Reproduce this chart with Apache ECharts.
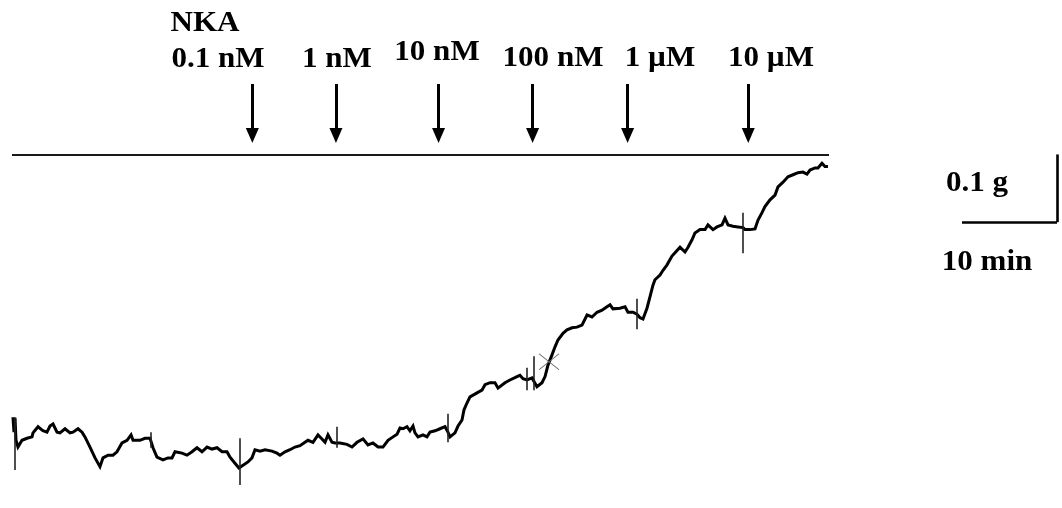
<!DOCTYPE html>
<html>
<head>
<meta charset="utf-8">
<script src="https://cdn.jsdelivr.net/npm/echarts@6/dist/echarts.min.js"></script>
<style>
  html, body { margin: 0; padding: 0; background: #fff; }
  #chart { width: 1062px; height: 508px; }
</style>
</head>
<body>
<div id="chart"></div>
<script>
// Isometric tension recording: [time (min), tension (g)]
const recording = [
  [0.10,0.084],[0.21,0.062],[0.32,0.083],[0.42,0.050],[0.63,0.040],[1.05,0.050],[1.58,0.053],[2.11,0.055],
  [2.21,0.061],[2.74,0.070],[3.26,0.064],[3.68,0.062],[4.00,0.071],[4.32,0.074],[4.74,0.062],[5.05,0.061],
  [5.58,0.067],[6.11,0.061],[6.42,0.062],[6.95,0.067],[7.37,0.062],[7.68,0.055],[8.21,0.040],[8.74,0.024],
  [9.26,0.011],[9.58,0.024],[10.11,0.028],[10.63,0.028],[11.05,0.033],[11.58,0.046],[12.11,0.050],[12.53,0.058],
  [12.74,0.050],[13.47,0.050],[14.00,0.053],[14.53,0.053],[14.84,0.039],[15.26,0.025],[15.89,0.021],[16.42,0.024],
  [16.84,0.024],[17.16,0.033],[17.89,0.031],[18.42,0.028],[18.95,0.033],[19.47,0.039],[20.00,0.033],[20.53,0.040],
  [21.05,0.037],[21.58,0.039],[22.11,0.033],[22.63,0.033],[22.95,0.025],[23.47,0.016],[23.89,0.009],[24.32,0.013],
  [24.84,0.018],[25.26,0.024],[25.58,0.036],[26.11,0.034],[26.63,0.036],[27.37,0.034],[27.89,0.031],[28.21,0.028],
  [28.74,0.033],[29.26,0.036],[29.79,0.040],[30.32,0.042],[30.84,0.047],[31.16,0.050],[31.68,0.047],[32.21,0.058],
  [32.63,0.052],[32.95,0.047],[33.26,0.058],[33.68,0.047],[34.00,0.046],[34.53,0.046],[35.26,0.044],[35.79,0.040],
  [36.32,0.047],[36.95,0.052],[37.47,0.043],[38.00,0.046],[38.53,0.040],[39.05,0.040],[39.58,0.050],[40.11,0.055],
  [40.53,0.059],[40.84,0.068],[41.16,0.067],[41.58,0.070],[41.89,0.064],[42.21,0.071],[42.42,0.061],[42.74,0.055],
  [43.26,0.058],[43.68,0.055],[44.00,0.062],[44.53,0.064],[45.05,0.067],[45.58,0.070],[45.89,0.062],[46.11,0.055],
  [46.63,0.061],[46.95,0.071],[47.37,0.080],[47.58,0.095],[47.89,0.105],[48.21,0.114],[48.95,0.120],[49.47,0.124],
  [49.79,0.132],[50.32,0.135],[50.84,0.135],[51.16,0.127],[51.37,0.129],[51.89,0.135],[52.42,0.139],[53.16,0.144],
  [53.47,0.146],[53.79,0.141],[54.21,0.139],[54.74,0.142],[55.26,0.129],[55.79,0.135],[56.11,0.144],[56.42,0.161],
  [56.84,0.176],[57.16,0.188],[57.47,0.198],[58.00,0.208],[58.42,0.213],[58.95,0.216],[59.47,0.217],[60.00,0.220],
  [60.53,0.235],[61.05,0.232],[61.58,0.239],[62.11,0.242],[62.63,0.247],[62.95,0.250],[63.26,0.244],[64.00,0.245],
  [64.53,0.247],[64.84,0.239],[65.37,0.239],[65.79,0.236],[66.11,0.231],[66.42,0.229],[66.84,0.245],[67.16,0.262],
  [67.47,0.279],[67.68,0.287],[68.21,0.294],[68.53,0.301],[68.95,0.309],[69.47,0.322],[69.79,0.327],[70.32,0.335],
  [70.84,0.328],[71.16,0.335],[71.58,0.346],[71.89,0.356],[72.42,0.361],[72.95,0.361],[73.26,0.368],[73.79,0.361],
  [74.21,0.365],[74.74,0.368],[75.05,0.378],[75.37,0.368],[75.89,0.366],[76.42,0.365],[76.95,0.364],[77.16,0.361],
  [77.68,0.361],[78.21,0.362],[78.53,0.375],[78.95,0.386],[79.26,0.395],[79.79,0.405],[80.32,0.412],[80.63,0.424],
  [81.16,0.431],[81.68,0.439],[82.21,0.442],[82.74,0.445],[83.26,0.446],[83.68,0.443],[84.00,0.449],[84.53,0.452],
  [84.84,0.452],[85.26,0.459],[85.58,0.454],[85.89,0.454]
];

// Injection artefacts on the trace: [time (min), top (g), bottom (g)]
const artefacts = [
  [0.32,0.084,0.006],[14.63,0.062,0.039],[24.00,0.053,-0.016],[34.21,0.070,0.039],
  [45.89,0.089,0.047],[54.21,0.157,0.124],[54.95,0.174,0.124],[65.79,0.259,0.214],[76.95,0.386,0.326]
];

// Cumulative NKA additions
const agonist = 'NKA';
const doseLabels = ['0.1 nM', '1 nM', '10 nM', '100 nM', '1 µM', '10 µM'];
const doseTimes = [25.3, 34.1, 44.9, 54.8, 64.8, 77.5];

// Reference level across the top of the trace (g) and its time span (min)
const referenceLevel = 0.472;
const referenceSpan = [0, 86];

// Calibration bars
const calTime = [100, 110];      // 10 min
const calForce = [0.372, 0.472]; // 0.1 g
const calLabels = ['0.1 g', '10 min'];

// Event marker on the trace
const eventMark = [56.53, 0.166];

// Arrow shaft extent (g)
const arrowTop = 0.576, arrowEnd = 0.500;

// Text placement (px)
const doseLabelPos = [[218, 60], [337, 60], [437, 53], [553, 59], [660, 59], [771, 59]];
const agonistPos = [205, 24];
const calLabelPos = [[977, 184], [987, 263]];

const FONT = '"Liberation Serif", "Times New Roman", serif';
const textEl = (text, pos) => ({
  type: 'text', x: pos[0], y: pos[1], scaleX: 1.07, silent: true,
  style: {
    text: text, fill: '#000', fontFamily: FONT, fontSize: 29, fontWeight: 'bold',
    align: 'center', verticalAlign: 'middle', textAlign: 'center', textVerticalAlign: 'middle'
  }
});

const chart = echarts.init(document.getElementById('chart'), null, { renderer: 'canvas' });

chart.setOption({
  animation: false,
  backgroundColor: '#fff',
  grid: { left: 12, right: 5, top: 0, bottom: 0 },
  xAxis: { type: 'value', min: 0, max: 110, show: false, splitLine: { show: false } },
  yAxis: { type: 'value', min: -0.05, max: 0.7, show: false, splitLine: { show: false } },
  graphic: [
    textEl(agonist, agonistPos),
    ...doseLabels.map((t, i) => textEl(t, doseLabelPos[i])),
    ...calLabels.map((t, i) => textEl(t, calLabelPos[i]))
  ],
  series: [
    {
      name: 'tension',
      type: 'line',
      data: recording,
      showSymbol: false,
      clip: false,
      lineStyle: { color: '#000', width: 3, join: 'miter' },
      z: 3,
      markPoint: {
        silent: true,
        symbol: 'path://M0,0L20,16M0,16L20,0',
        symbolSize: [20, 16],
        itemStyle: { color: 'rgba(0,0,0,0)', borderColor: '#6a6a6a', borderWidth: 1 },
        label: { show: false },
        data: [{ coord: eventMark }]
      }
    },
    {
      name: 'artefacts',
      type: 'line',
      data: [],
      clip: false,
      markLine: {
        silent: true,
        symbol: 'none',
        label: { show: false },
        lineStyle: { color: '#222', width: 1.6, type: 'solid' },
        data: artefacts.map(a => [{ coord: [a[0], a[1]] }, { coord: [a[0], a[2]] }])
      }
    },
    {
      name: 'additions',
      type: 'line',
      data: [],
      clip: false,
      markLine: {
        silent: true,
        symbol: ['none', 'triangle'],
        symbolSize: [13, 15],
        label: { show: false },
        lineStyle: { color: '#000', width: 3, type: 'solid' },
        data: doseTimes.map(t => [{ coord: [t, arrowTop] }, { coord: [t, arrowEnd] }])
      }
    },
    {
      name: 'frame',
      type: 'line',
      data: [],
      clip: false,
      markLine: {
        silent: true,
        symbol: 'none',
        label: { show: false },
        data: [
          [{ coord: [referenceSpan[0], referenceLevel], lineStyle: { color: '#1a1a1a', width: 2.2, type: 'solid' } },
           { coord: [referenceSpan[1], referenceLevel] }],
          [{ coord: [calTime[0], calForce[0]], lineStyle: { color: '#000', width: 2.6, type: 'solid' } },
           { coord: [calTime[1], calForce[0]] }],
          [{ coord: [calTime[1], calForce[0]], lineStyle: { color: '#000', width: 2.6, type: 'solid' } },
           { coord: [calTime[1], calForce[1]] }]
        ]
      }
    }
  ]
});
</script>
</body>
</html>
